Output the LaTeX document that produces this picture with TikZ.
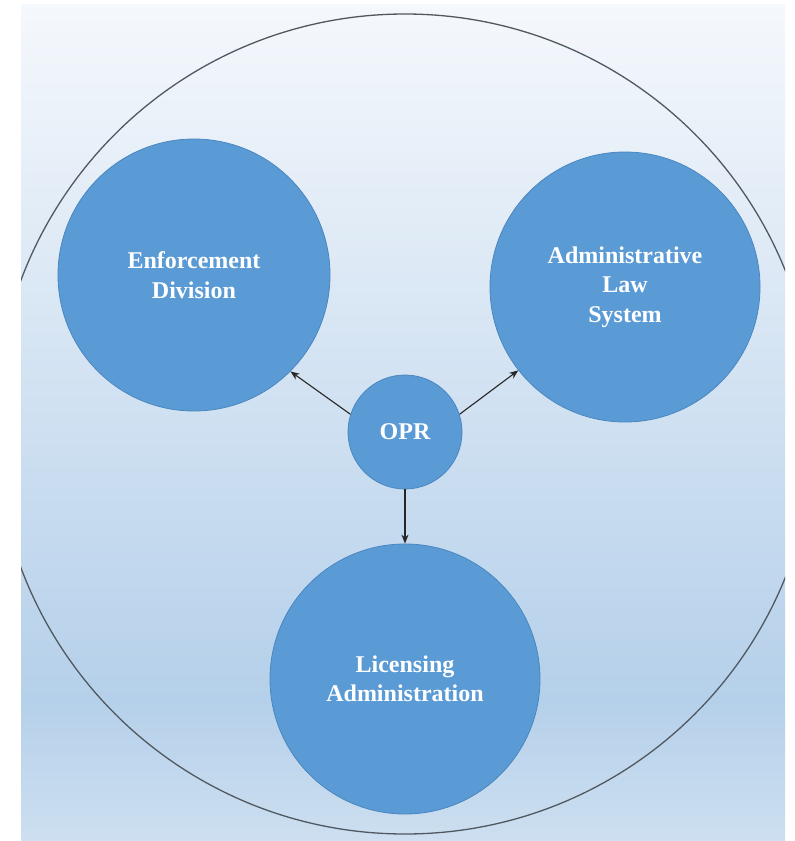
\documentclass[tikz,border=0pt]{standalone}
\usepackage{fontspec}
\setmainfont{Liberation Serif}
\usetikzlibrary{arrows.meta}
\definecolor{bgtop}{HTML}{F5F8FC}
\definecolor{bgmid}{HTML}{B5D0EA}
\definecolor{bgbot}{HTML}{CDDFF0}
\definecolor{circfill}{HTML}{5B9BD5}
\definecolor{circline}{HTML}{4A86C0}
\definecolor{outerline}{HTML}{505860}
\tikzset{
  bubble/.style={circle, fill=circfill, draw=circline, line width=0.8pt, inner sep=0pt,
    text=white, align=center, font=\bfseries\fontsize{24}{29.5}\selectfont},
  arr/.style={-{Stealth[length=9pt,width=7pt]}, line width=1.1pt, draw=black!85},
}
\begin{document}
\begin{tikzpicture}[x=1pt,y=-1pt]
\useasboundingbox (0,0) rectangle (795,841);
% background
\fill[top color=bgtop, bottom color=bgmid] (21,4) rectangle (785,700.5);
\fill[top color=bgmid, bottom color=bgbot] (21,700) rectangle (785,841);
% outer circle, clipped by the background
\begin{scope}
  \clip (21,4) rectangle (785,841);
  \node[circle, draw=outerline, line width=1.3pt, minimum size=820pt, inner sep=0pt] (outer) at (405,424) {};
\end{scope}
% bubbles
\node[bubble, minimum size=272pt] (enf) at (194,275) {Enforcement\\Division};
\node[bubble, minimum size=270pt] (adm) at (625,287) {Administrative\\Law\\System};
\node[bubble, minimum size=270pt] (lic) at (405,679) {Licensing\\Administration};
\node[bubble, minimum size=114pt] (opr) at (405,432) {OPR};
% connectors
\draw[arr] (opr.162) -- (enf.-45);
\draw[arr] (opr.18) -- (adm.218);
\draw[arr] (opr.south) -- (lic.north);
\end{tikzpicture}
\end{document}
